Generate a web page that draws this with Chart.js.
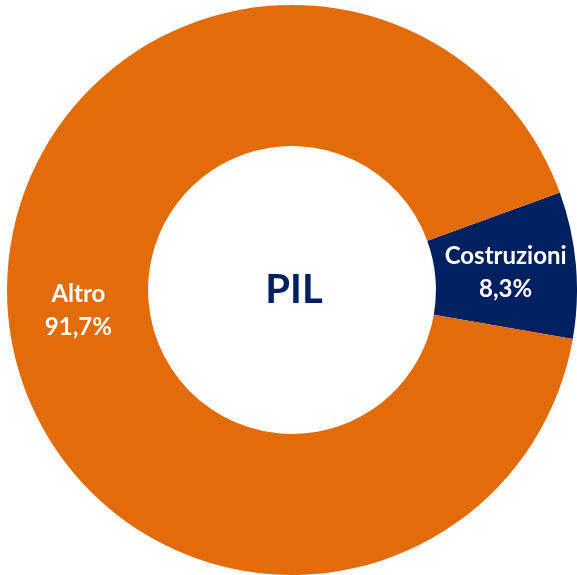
<!DOCTYPE html>
<html>
<head>
<meta charset="utf-8">
<script src="https://cdn.jsdelivr.net/npm/chart.js@4/dist/chart.umd.min.js"></script>
<style>
html,body{margin:0;padding:0;background:#fff;}
#wrap{width:577px;height:575px;position:relative;}
</style>
</head>
<body>
<div id="wrap"><canvas id="c" width="577" height="575"></canvas></div>
<script>
const categories = ["Costruzioni", "Altro"];
const values = [8.3, 91.7];
const valueLabels = ["8,3%", "91,7%"];
const colors = ["#002060", "#E36C0A"];
const centerTitle = "PIL";

const labelPlugin = {
  id: 'sliceLabels',
  afterDatasetsDraw(chart) {
    const ctx = chart.ctx;
    const meta = chart.getDatasetMeta(0);
    ctx.save();
    ctx.fillStyle = '#ffffff';
    ctx.font = 'bold 24px Lato';
    ctx.textAlign = 'center';
    ctx.textBaseline = 'middle';
    meta.data.forEach((arc, i) => {
      const p = arc.tooltipPosition();
      ctx.fillText(categories[i], p.x, p.y - 15);
      ctx.fillText(valueLabels[i], p.x, p.y + 18);
    });
    const a = meta.data[0];
    ctx.fillStyle = '#002060';
    ctx.font = 'bold 40px Lato';
    ctx.fillText(centerTitle, a.x + 2, a.y);
    ctx.restore();
  }
};

new Chart(document.getElementById('c'), {
  type: 'doughnut',
  data: {
    labels: categories,
    datasets: [{
      data: values,
      backgroundColor: colors,
      borderWidth: 0
    }]
  },
  options: {
    responsive: false,
    animation: false,
    rotation: 70,
    cutout: '50.5%',
    layout: { padding: { left: 7, top: 5, right: 0, bottom: 0 } },
    plugins: { legend: { display: false }, tooltip: { enabled: false } }
  },
  plugins: [labelPlugin]
});
</script>
</body>
</html>
